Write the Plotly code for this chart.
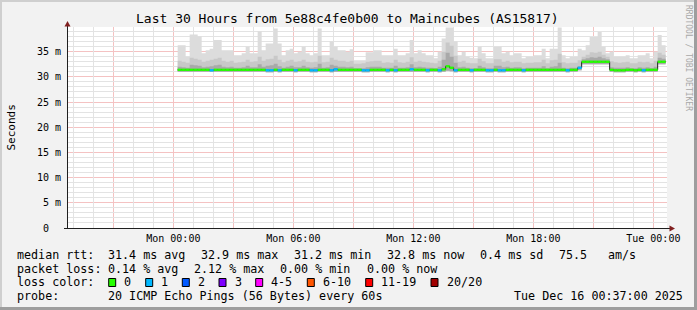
import plotly.graph_objects as go
import pandas as pd

# ---------------- data ----------------
sample_start = "2025-12-15 00:13"      # first consolidated sample
sample_step = "12min"                  # consolidation step
view_start = "2025-12-14 18:41"
view_end = "2025-12-16 00:41"

# top of smoke (max ping), ms
smoke_hi = [36.3, 36.3, 34.0, 38.4, 38.4, 38.0, 34.7, 35.3, 35.6, 37.3,
            37.3, 35.3, 35.3, 35.3, 34.3, 34.3, 34.7, 36.0, 34.7, 34.7,
            39.0, 35.3, 36.6, 36.6, 39.6, 36.6, 34.3, 35.3, 35.6, 34.7,
            35.0, 36.0, 34.7, 34.3, 34.7, 39.6, 34.3, 34.3, 37.0, 36.0,
            35.3, 35.3, 35.0, 35.5, 33.3, 33.3, 33.3, 34.9, 34.9, 35.3,
            35.3, 34.3, 34.3, 34.3, 35.6, 34.3, 34.3, 34.7, 37.3, 34.7,
            35.3, 34.7, 34.3, 34.3, 33.7, 35.0, 37.6, 39.8, 39.8, 37.0,
            34.3, 35.0, 34.0, 33.8, 33.7, 36.0, 34.7, 33.7, 33.7, 36.0,
            36.0, 34.7, 35.0, 34.3, 34.7, 34.7, 33.7, 34.0, 34.0, 34.3,
            34.3, 35.6, 33.7, 35.6, 35.6, 39.8, 34.3, 33.7, 34.0, 34.0,
            35.6, 35.3, 36.3, 37.9, 37.9, 38.9, 36.0, 34.7, 35.0, 34.0,
            34.0, 34.0, 34.3, 33.7, 33.7, 34.3, 34.3, 34.7, 33.7, 35.0,
            38.3, 36.3]

# top of the medium smoke band, ms
smoke_mid = [33.2, 33.0, 32.8, 33.8, 33.6, 33.4, 33.0, 33.2, 33.4, 33.6,
             33.8, 33.2, 33.0, 33.2, 32.8, 32.9, 33.0, 33.4, 33.0, 33.1,
             34.0, 33.2, 33.5, 33.6, 34.2, 33.4, 32.9, 33.2, 33.4, 33.0,
             33.1, 33.4, 33.0, 32.9, 33.0, 34.2, 32.9, 33.0, 33.8, 33.4,
             33.2, 33.2, 33.0, 33.2, 32.6, 32.6, 32.7, 33.0, 33.1, 33.2,
             33.2, 32.8, 32.9, 32.8, 33.4, 32.9, 32.8, 33.0, 33.9, 33.0,
             33.2, 33.0, 32.9, 32.8, 32.7, 33.2, 35.0, 36.8, 36.2, 34.2,
             33.0, 33.2, 32.8, 32.7, 32.7, 33.6, 33.1, 32.7, 32.7, 33.5,
             33.5, 33.0, 33.2, 32.9, 33.0, 33.0, 32.7, 32.8, 32.8, 32.9,
             32.9, 33.4, 32.7, 33.3, 33.4, 34.6, 32.9, 32.7, 32.8, 32.8,
             33.3, 34.0, 34.4, 34.9, 34.8, 35.0, 34.4, 34.0, 33.1, 32.9,
             32.8, 32.9, 33.0, 32.7, 32.7, 33.0, 32.9, 33.0, 32.7, 33.2,
             34.8, 34.4]

# top of the dark (inner) smoke band, ms
smoke_dark = [32.0, 31.9, 31.8, 32.4, 32.3, 32.2, 31.9, 32.0, 32.1, 32.3,
              32.4, 32.0, 31.9, 32.0, 31.8, 31.8, 31.9, 32.2, 31.9, 31.9,
              32.5, 32.0, 32.2, 32.3, 32.6, 32.1, 31.8, 32.0, 32.2, 31.9,
              31.9, 32.2, 31.9, 31.8, 31.9, 32.6, 31.8, 31.9, 32.4, 32.2,
              32.0, 32.0, 31.9, 32.0, 31.7, 31.7, 31.7, 31.9, 32.0, 32.0,
              32.0, 31.8, 31.8, 31.8, 32.2, 31.8, 31.8, 31.9, 32.5, 31.9,
              32.0, 31.9, 31.8, 31.8, 31.7, 32.0, 33.4, 34.8, 34.0, 32.8,
              31.9, 32.0, 31.8, 31.7, 31.7, 32.2, 31.9, 31.7, 31.7, 32.2,
              32.2, 31.9, 32.0, 31.8, 31.9, 31.9, 31.7, 31.8, 31.8, 31.8,
              31.8, 32.1, 31.7, 32.0, 32.1, 32.8, 31.8, 31.7, 31.8, 31.8,
              32.1, 33.5, 33.7, 33.9, 33.8, 34.0, 33.7, 33.5, 31.9, 31.8,
              31.8, 31.8, 31.9, 31.7, 31.7, 31.9, 31.8, 31.9, 31.7, 32.0,
              33.8, 33.6]

# bottom of smoke (min ping), ms
smoke_lo = [31.0, 31.0, 31.0, 31.0, 31.0, 31.0, 31.0, 31.0, 31.0, 31.0,
            31.0, 31.0, 31.0, 31.0, 31.0, 31.0, 31.0, 31.0, 31.0, 31.0,
            31.0, 31.0, 30.9, 30.9, 31.0, 30.9, 31.0, 31.0, 31.0, 30.9,
            31.0, 31.0, 31.0, 30.9, 30.9, 31.0, 31.0, 31.0, 30.9, 31.0,
            31.0, 31.0, 31.0, 31.0, 31.0, 31.0, 30.9, 30.9, 31.0, 31.0,
            31.0, 31.0, 30.9, 31.0, 30.9, 31.0, 31.0, 31.0, 31.0, 31.0,
            31.0, 31.0, 30.9, 31.0, 31.0, 30.9, 31.0, 31.2, 31.1, 30.9,
            31.0, 31.0, 31.0, 30.9, 31.0, 31.0, 31.0, 30.9, 30.9, 31.0,
            30.9, 30.9, 31.0, 31.0, 31.0, 31.0, 30.9, 31.0, 31.0, 31.0,
            31.0, 31.0, 31.0, 31.0, 31.0, 31.0, 31.0, 30.9, 31.0, 31.0,
            31.3, 32.5, 32.5, 32.5, 32.5, 32.5, 32.5, 32.5, 31.0, 30.9,
            30.9, 30.9, 31.0, 31.0, 30.9, 31.0, 30.9, 31.0, 31.0, 31.0,
            32.5, 32.5]

# median rtt, ms
median_rtt = [31.4, 31.4, 31.4, 31.4, 31.4, 31.4, 31.4, 31.4, 31.3, 31.4,
              31.4, 31.4, 31.4, 31.4, 31.4, 31.4, 31.4, 31.4, 31.4, 31.4,
              31.4, 31.4, 31.3, 31.3, 31.4, 31.3, 31.4, 31.4, 31.4, 31.3,
              31.4, 31.4, 31.4, 31.3, 31.3, 31.4, 31.4, 31.4, 31.3, 31.5,
              31.4, 31.4, 31.4, 31.4, 31.4, 31.4, 31.3, 31.3, 31.4, 31.4,
              31.4, 31.4, 31.3, 31.4, 31.3, 31.4, 31.4, 31.4, 31.5, 31.4,
              31.4, 31.4, 31.3, 31.4, 31.4, 31.3, 31.5, 32.1, 31.8, 31.3,
              31.4, 31.4, 31.4, 31.3, 31.4, 31.4, 31.4, 31.3, 31.3, 31.4,
              31.3, 31.3, 31.4, 31.4, 31.4, 31.4, 31.3, 31.4, 31.4, 31.4,
              31.4, 31.4, 31.4, 31.4, 31.4, 31.4, 31.4, 31.3, 31.4, 31.4,
              31.8, 33.0, 33.0, 33.0, 33.0, 33.0, 33.0, 33.0, 31.4, 31.3,
              31.3, 31.3, 31.4, 31.4, 31.3, 31.4, 31.3, 31.4, 31.4, 31.4,
              33.0, 33.0]

# lost pings (of 20) per sample
loss_count = [0, 0, 0, 0, 0, 0, 0, 0, 1, 0,
              0, 0, 0, 0, 0, 0, 0, 0, 0, 0,
              0, 0, 1, 1, 0, 1, 0, 0, 0, 1,
              0, 0, 0, 1, 1, 0, 0, 0, 1, 1,
              0, 0, 0, 0, 0, 0, 1, 1, 0, 0,
              0, 0, 1, 0, 1, 0, 0, 0, 1, 0,
              0, 0, 1, 0, 0, 1, 0, 0, 0, 1,
              0, 0, 0, 1, 0, 0, 0, 1, 1, 0,
              1, 1, 0, 0, 0, 0, 1, 0, 0, 0,
              0, 0, 0, 0, 0, 0, 0, 1, 0, 0,
              1, 0, 0, 0, 0, 0, 0, 0, 0, 0,
              0, 0, 0, 0, 0, 0, 1, 0, 0, 0,
              0, 0]

loss_labels = ["0", "1", "2", "3", "4-5", "6-10", "11-19", "20/20"]
loss_upper = [0, 1, 2, 3, 5, 10, 19, 20]
loss_colors = ["#26ff00", "#00b8ff", "#0059ff", "#7e00ff",
               "#ff00ff", "#ff5500", "#ff0000", "#a10000"]

# time axis: major grid every 3 h (labels every 6 h), minor grid on the other hours
x_major_ticks = list(pd.date_range("2025-12-14 21:00", "2025-12-16 00:00", freq="3h"))
x_minor_ticks = [t for t in pd.date_range("2025-12-14 19:00", "2025-12-16 00:00", freq="1h")
                 if t not in x_major_ticks]
x_label_ticks = ["2025-12-15 00:00", "2025-12-15 06:00", "2025-12-15 12:00",
                 "2025-12-15 18:00", "2025-12-16 00:00"]
x_label_text = ["Mon 00:00", "Mon 06:00", "Mon 12:00", "Mon 18:00", "Tue 00:00"]

# value axis: major grid + labels every 5 ms, minor grid on the other ms
y_major_ticks = [0, 5, 10, 15, 20, 25, 30, 35]
y_minor_ticks = [v for v in range(0, 40) if v not in y_major_ticks]
y_label_text = ["0\u00a0\u00a0", "5 m", "10 m", "15 m", "20 m", "25 m", "30 m", "35 m"]

title_text = "Last 30 Hours from 5e88c4fe0b00 to Maincubes (AS15817)"
rtt_stats = {"avg": 31.4, "max": 32.9, "min": 31.2, "now": 32.8, "sd": 0.4, "ams": 75.5}
loss_stats = {"avg": 0.14, "max": 2.12, "min": 0.00, "now": 0.00}
probe_text = "20 ICMP Echo Pings (56 Bytes) every 60s"
stamp_text = "Tue Dec 16 00:37:00 2025"

# ---------------- geometry ----------------
W, H = 697, 310
PL, PR, PT, PB = 67, 667, 27, 228
MONO = "DejaVu Sans Mono"


def fx(px):
    return (px - PL) / (PR - PL)


def fy(py):
    return (PB - py) / (PB - PT)


n = len(median_rtt)
times = list(pd.date_range(sample_start, periods=n + 1, freq=sample_step))


def ext(v):
    return list(v) + [v[-1]]


fig = go.Figure()

smoke_layers = [(smoke_hi, "#dcdcdc"), (smoke_mid, "#c8c8c8"), (smoke_dark, "#a9a9a9")]
for top, col in smoke_layers:
    fig.add_trace(go.Scatter(x=times, y=ext(smoke_lo), mode="lines", line=dict(width=0, shape="hv"),
                             hoverinfo="skip", showlegend=False))
    fig.add_trace(go.Scatter(x=times, y=ext(top), mode="lines", line=dict(width=0, shape="hv"),
                             fill="tonexty", fillcolor=col, hoverinfo="skip", showlegend=False))

# thin dark median line (shows at the steps)
fig.add_trace(go.Scatter(x=times, y=ext(median_rtt), mode="lines",
                         line=dict(width=1, color="#202020", shape="hv"),
                         hoverinfo="skip", showlegend=False))


def level_of(c):
    for i, u in enumerate(loss_upper):
        if c <= u:
            return i
    return len(loss_upper) - 1


for li, col in enumerate(loss_colors):
    xs, ys = [], []
    for k in range(n):
        if level_of(loss_count[k]) == li:
            xs += [times[k], times[k + 1], None]
            ys += [median_rtt[k], median_rtt[k], None]
    if xs:
        fig.add_trace(go.Scatter(x=xs, y=ys, mode="lines", line=dict(width=2.4, color=col),
                                 hoverinfo="skip", showlegend=False))

# empty traces that activate the overlay axes carrying the minor grid
fig.add_trace(go.Scatter(x=[], y=[], xaxis="x2", yaxis="y", showlegend=False, hoverinfo="skip"))
fig.add_trace(go.Scatter(x=[], y=[], xaxis="x", yaxis="y2", showlegend=False, hoverinfo="skip"))

GRID = "#e3e3e3"
MGRID = "#f4c2c2"

x_text = [x_label_text[x_label_ticks.index(t.strftime("%Y-%m-%d %H:%M"))]
          if t.strftime("%Y-%m-%d %H:%M") in x_label_ticks else "" for t in x_major_ticks]

tickfont = dict(family=MONO, size=10, color="#000000")
fig.update_layout(
    xaxis=dict(type="date", range=[view_start, view_end], tickmode="array",
               tickvals=x_major_ticks, ticktext=x_text,
               showgrid=True, gridcolor=MGRID, gridwidth=1,
               ticks="outside", ticklen=1, tickcolor="rgba(0,0,0,0)", tickfont=tickfont,
               showline=False, zeroline=False, fixedrange=True),
    xaxis2=dict(type="date", range=[view_start, view_end], overlaying="x", anchor="y",
                tickmode="array", tickvals=x_minor_ticks, showticklabels=False, ticks="",
                showgrid=True, gridcolor=GRID, gridwidth=1,
                showline=False, zeroline=False, fixedrange=True),
    yaxis=dict(range=[0, 39.9], tickmode="array", tickvals=y_major_ticks, ticktext=y_label_text,
               showgrid=True, gridcolor=MGRID, gridwidth=1,
               ticks="outside", ticklen=3, tickcolor="rgba(0,0,0,0)", tickfont=tickfont,
               showline=False, zeroline=False, fixedrange=True),
    yaxis2=dict(range=[0, 39.9], overlaying="y", anchor="x", side="left",
                tickmode="array", tickvals=y_minor_ticks, showticklabels=False, ticks="",
                showgrid=True, gridcolor=GRID, gridwidth=1,
                showline=False, zeroline=False, fixedrange=True),
)

shapes = []
# frame
shapes.append(dict(type="rect", xref="paper", yref="paper", x0=fx(0), x1=fx(W), y0=fy(0), y1=fy(2),
                   fillcolor="#cfcfcf", line=dict(width=0)))
shapes.append(dict(type="rect", xref="paper", yref="paper", x0=fx(0), x1=fx(2), y0=fy(0), y1=fy(H),
                   fillcolor="#cfcfcf", line=dict(width=0)))
shapes.append(dict(type="rect", xref="paper", yref="paper", x0=fx(0), x1=fx(W), y0=fy(H - 3), y1=fy(H),
                   fillcolor="#9e9e9e", line=dict(width=0)))
shapes.append(dict(type="rect", xref="paper", yref="paper", x0=fx(W - 3), x1=fx(W), y0=fy(0), y1=fy(H),
                   fillcolor="#9e9e9e", line=dict(width=0)))
# axes
shapes.append(dict(type="line", xref="paper", yref="paper", x0=fx(67.5), x1=fx(67.5), y0=fy(228.5), y1=fy(23),
                   line=dict(color="#1f1f1f", width=1)))
shapes.append(dict(type="line", xref="paper", yref="paper", x0=fx(64), x1=fx(670), y0=fy(228.5), y1=fy(228.5),
                   line=dict(color="#1f1f1f", width=1)))


def path(pts):
    return "M " + " L ".join(f"{fx(a)},{fy(b)}" for a, b in pts) + " Z"


shapes.append(dict(type="path", xref="paper", yref="paper",
                   path=path([(67.5, 21), (64.5, 26.5), (70.5, 26.5)]),
                   fillcolor="#801f1f", line=dict(width=0)))
shapes.append(dict(type="path", xref="paper", yref="paper",
                   path=path([(675, 228.5), (669.5, 225.5), (669.5, 231.5)]),
                   fillcolor="#801f1f", line=dict(width=0)))

ann = []


def text(px, py, s, size=11.7, anchor="left", color="#000000", angle=0):
    ann.append(dict(xref="paper", yref="paper", x=fx(px), y=fy(py), text=s, showarrow=False,
                    xanchor=anchor, yanchor="middle", textangle=angle, borderpad=0,
                    font=dict(family=MONO, size=size, color=color)))


text(347, 19, title_text, size=13, anchor="center")
text(11, 127.5, "Seconds", size=11, anchor="center", angle=-90)
text(688, 58, "RRDTOOL / TOBI OETIKER", size=8, anchor="center", color="#a8a8a8", angle=90)

r1, r2, r3, r4 = 254.7, 268.5, 282.3, 295.8
text(16, r1, "median rtt:")
text(107.3, r1, f"{rtt_stats['avg']:.1f} ms avg")
text(200, r1, f"{rtt_stats['max']:.1f} ms max")
text(293.3, r1, f"{rtt_stats['min']:.1f} ms min")
text(386, r1, f"{rtt_stats['now']:.1f} ms now")
text(479.3, r1, f"{rtt_stats['sd']:.1f} ms sd")
text(558.3, r1, f"{rtt_stats['ams']:.1f}")
text(607.3, r1, "am/s")

text(16, r2, "packet loss:")
text(107.3, r2, f"{loss_stats['avg']:.2f} % avg")
text(193.3, r2, f"{loss_stats['max']:.2f} % max")
text(279.3, r2, f"{loss_stats['min']:.2f} % min")
text(365.5, r2, f"{loss_stats['now']:.2f} % now")

text(16, r3, "loss color:")
box_x = [108.7, 145.7, 182.3, 219, 255.7, 307.3, 365.7, 431]
for bx, lab, col in zip(box_x, loss_labels, loss_colors):
    shapes.append(dict(type="rect", xref="paper", yref="paper", x0=fx(bx), x1=fx(bx + 7),
                       y0=fy(278.5), y1=fy(286.5), fillcolor=col, line=dict(color="#000000", width=1)))
    text(bx + 14.6, r3, lab)

text(16, r4, "probe:")
text(107.3, r4, probe_text)
text(513.3, r4, stamp_text)

fig.update_layout(width=W, height=H, margin=dict(l=PL, r=W - PR, t=PT, b=H - PB, pad=0),
                  paper_bgcolor="#f2f2f2", plot_bgcolor="#ffffff",
                  shapes=shapes, annotations=ann, showlegend=False)

fig.write_html("out.html")
